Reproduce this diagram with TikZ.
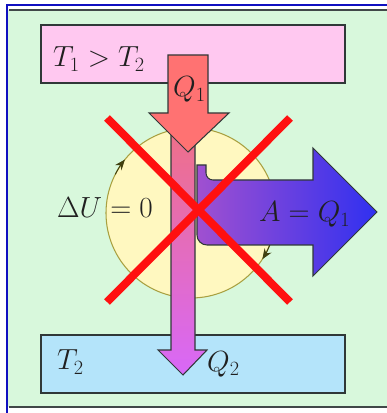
\documentclass[tikz,border=0pt]{standalone}
\usetikzlibrary{arrows.meta}
\definecolor{bg}{HTML}{D8F8DC}
\definecolor{frameblue}{HTML}{1010C0}
\definecolor{framegray}{HTML}{404848}
\definecolor{boxline}{HTML}{303838}
\definecolor{hotpink}{HTML}{FFC8F0}
\definecolor{coldblue}{HTML}{B4E4FA}
\definecolor{circyellow}{HTML}{FFF8C0}
\definecolor{circline}{HTML}{A8A040}
\definecolor{cycdark}{HTML}{404010}
\definecolor{xred}{HTML}{FF1010}
\definecolor{redarrow}{HTML}{FF7272}
\definecolor{purptop}{HTML}{F07080}
\definecolor{purpbot}{HTML}{D868F8}
\definecolor{blueleft}{HTML}{A050D0}
\definecolor{bluemid}{HTML}{5038E0}
\definecolor{blueright}{HTML}{3030F0}
\definecolor{txt}{HTML}{202020}
\begin{document}
\begin{tikzpicture}[x=0.03cm,y=0.03cm,
  reservoir/.style={draw=boxline, line width=1.5pt, inner sep=0pt, minimum width=9.12cm, minimum height=1.74cm},
  lbl/.style={inner sep=0pt, anchor=base west, text=txt, font=\fontsize{24}{28}\selectfont},
  cross/.style={draw=xred, line width=6.8pt},
  blockarrow/.style={draw=boxline, line width=0.9pt, line join=miter},
  cyc/.style={draw=cycdark, line width=0.8pt, -{Stealth[length=9pt,width=7pt]}}]
\useasboundingbox (0,0) rectangle (387,413);
% background and frame
\fill[bg] (8,6) rectangle (387,403);
\draw[frameblue, line width=1.7pt] (7,0) -- (7,408) -- (387,408);
\draw[framegray, line width=1.7pt] (9,403) -- (387,403);
\draw[framegray, line width=1.7pt] (9,6) -- (387,6);
% reservoirs
\node[reservoir, fill=hotpink] (hot) at (193,359) {};
\node[reservoir, fill=coldblue] (cold) at (193,49) {};
% engine circle
\node[circle, draw=circline, line width=0.9pt, fill=circyellow, minimum size=5.1cm, inner sep=0pt] (eng) at (191,200) {};
\draw[cyc] (eng.center) ++(153:85) arc (153:141:85);
\draw[cyc] (eng.center) ++(-21:85) arc (-21:-33:85);
% purple arrow (Q2)
\shade[blockarrow, top color=purptop, bottom color=purpbot]
  (171,300) -- (171,63) -- (158,63) -- (183,38) -- (207,63) -- (195,63) -- (195,300) -- cycle;
% red arrow (Q1)
\filldraw[blockarrow, fill=redarrow]
  (168,358) -- (168,300) -- (149,300) -- (188,261) -- (229,300) -- (208,300) -- (208,358) -- cycle;
% blue arrow (A)
\shade[blockarrow, left color=blueleft, middle color=bluemid, right color=blueright]
  (197,248) -- (206,248) -- (206,240) arc (180:270:7) -- (313,233) -- (313,265) -- (377,201)
  -- (313,137) -- (313,168) -- (207,168) arc (270:180:10) -- cycle;
% red cross
\draw[cross] (107,295) -- (290,111);
\draw[cross] (290,295) -- (107,111);
% labels
\node[lbl] (t1) at (53,346) {$T_1 > T_2$};
\node[lbl] (t2) at (57,43) {$T_2$};
\node[lbl] (q1) at (173,316) {$Q_1$};
\node[lbl] (q2) at (207,42) {$Q_2$};
\node[lbl] (du) at (57,195) {$\Delta U = 0$};
\node[lbl] (aq) at (259,191) {$A = Q_1$};
\end{tikzpicture}
\end{document}
